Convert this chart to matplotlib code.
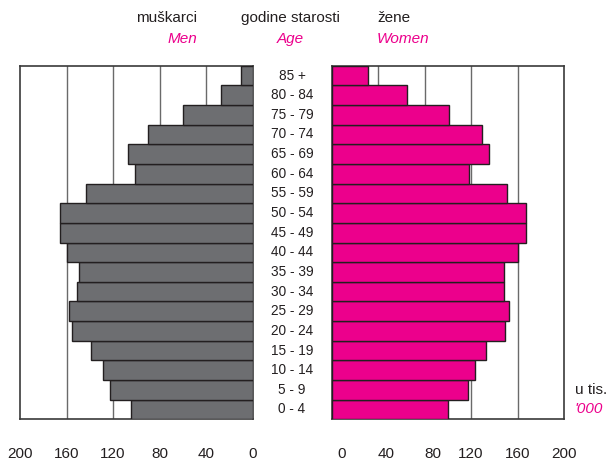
import matplotlib
matplotlib.use('Agg')
import matplotlib.pyplot as plt
import matplotlib.transforms as mtransforms

# dobne skupine, od najmlađe prema najstarijoj
dobne_skupine = ['0 - 4', '5 - 9', '10 - 14', '15 - 19', '20 - 24', '25 - 29',
                 '30 - 34', '35 - 39', '40 - 44', '45 - 49', '50 - 54', '55 - 59',
                 '60 - 64', '65 - 69', '70 - 74', '75 - 79', '80 - 84', '85 +']
# u tisucama
muskarci = [105, 123, 129, 139, 155, 158, 151, 149, 160, 166, 166, 143,
            101, 107, 90, 60, 27, 10]
zene = [100, 117, 123, 133, 149, 153, 148, 148, 160, 167, 167, 151,
        118, 135, 129, 101, 65, 31]
oznake_x = [0, 40, 80, 120, 160, 200]

SIVA = '#6d6e71'
MAGENTA = '#ec008c'
TAMNA = '#231f20'

plt.rcParams['font.family'] = ['Liberation Sans', 'DejaVu Sans']

fig = plt.figure(figsize=(6.07, 4.62), dpi=100)
W, H = 607, 462
axL = fig.add_axes([20 / W, 1 - 419.3 / H, 232.7 / W, 353.6 / H])
axR = fig.add_axes([331.7 / W, 1 - 419.3 / H, 232.3 / W, 353.6 / H])

y = list(range(len(dobne_skupine)))
axL.barh(y, muskarci, height=1.0, color=SIVA, edgecolor=TAMNA, linewidth=1, zorder=3)
axR.barh(y, zene, height=1.0, color=MAGENTA, edgecolor=TAMNA, linewidth=1, zorder=3)

for ax in (axL, axR):
    ax.set_ylim(-0.5, len(dobne_skupine) - 0.5)
    ax.set_yticks([])
    ax.set_xticks(oznake_x)
    ax.set_xticklabels([str(v) for v in oznake_x])
    ax.tick_params(axis='x', length=0, pad=20, labelsize=11, labelcolor=TAMNA)
    for v in oznake_x[1:-1]:
        ax.axvline(v, color='#6a6a6a', linewidth=1, zorder=1)
    for s in ax.spines.values():
        s.set_color('#3a3a3a')
        s.set_linewidth(1.2)

axL.set_xlim(200, 0)
axR.set_xlim(0, 200)

# pomak prvih oznaka desne strane kao na originalu
pomaci = [9.5, 8, 8, 0, 0, 0]
for lab, p in zip(axR.get_xticklabels(), pomaci):
    if p:
        lab.set_transform(lab.get_transform() +
                          mtransforms.ScaledTranslation(p / 100, 0, fig.dpi_scale_trans))

# dobne oznake u sredini
tr = mtransforms.blended_transform_factory(fig.transFigure, axL.transData)
for i, d in enumerate(dobne_skupine):
    fig.text(292 / W, i, d, transform=tr, ha='center', va='center',
             fontsize=9.8, color=TAMNA)

# naslovi
fs = 11
fig.text(197 / W, 1 - 18 / H, 'muškarci', ha='right', va='center', fontsize=fs, color=TAMNA)
fig.text(197 / W, 1 - 39 / H, 'Men', ha='right', va='center', fontsize=fs,
         color=MAGENTA, style='italic')
fig.text(290 / W, 1 - 18 / H, 'godine starosti', ha='center', va='center', fontsize=fs, color=TAMNA)
fig.text(290 / W, 1 - 39 / H, 'Age', ha='center', va='center', fontsize=fs,
         color=MAGENTA, style='italic')
fig.text(377 / W, 1 - 18 / H, 'žene', ha='left', va='center', fontsize=fs, color=TAMNA)
fig.text(377 / W, 1 - 39 / H, 'Women', ha='left', va='center', fontsize=fs,
         color=MAGENTA, style='italic')

fig.text(575 / W, 1 - 390.5 / H, 'u tis.', ha='left', va='center', fontsize=fs, color=TAMNA)
fig.text(575 / W, 1 - 409 / H, "'000", ha='left', va='center', fontsize=fs,
         color=MAGENTA, style='italic')

fig.savefig('out.png', dpi=100)
plt.close(fig)
